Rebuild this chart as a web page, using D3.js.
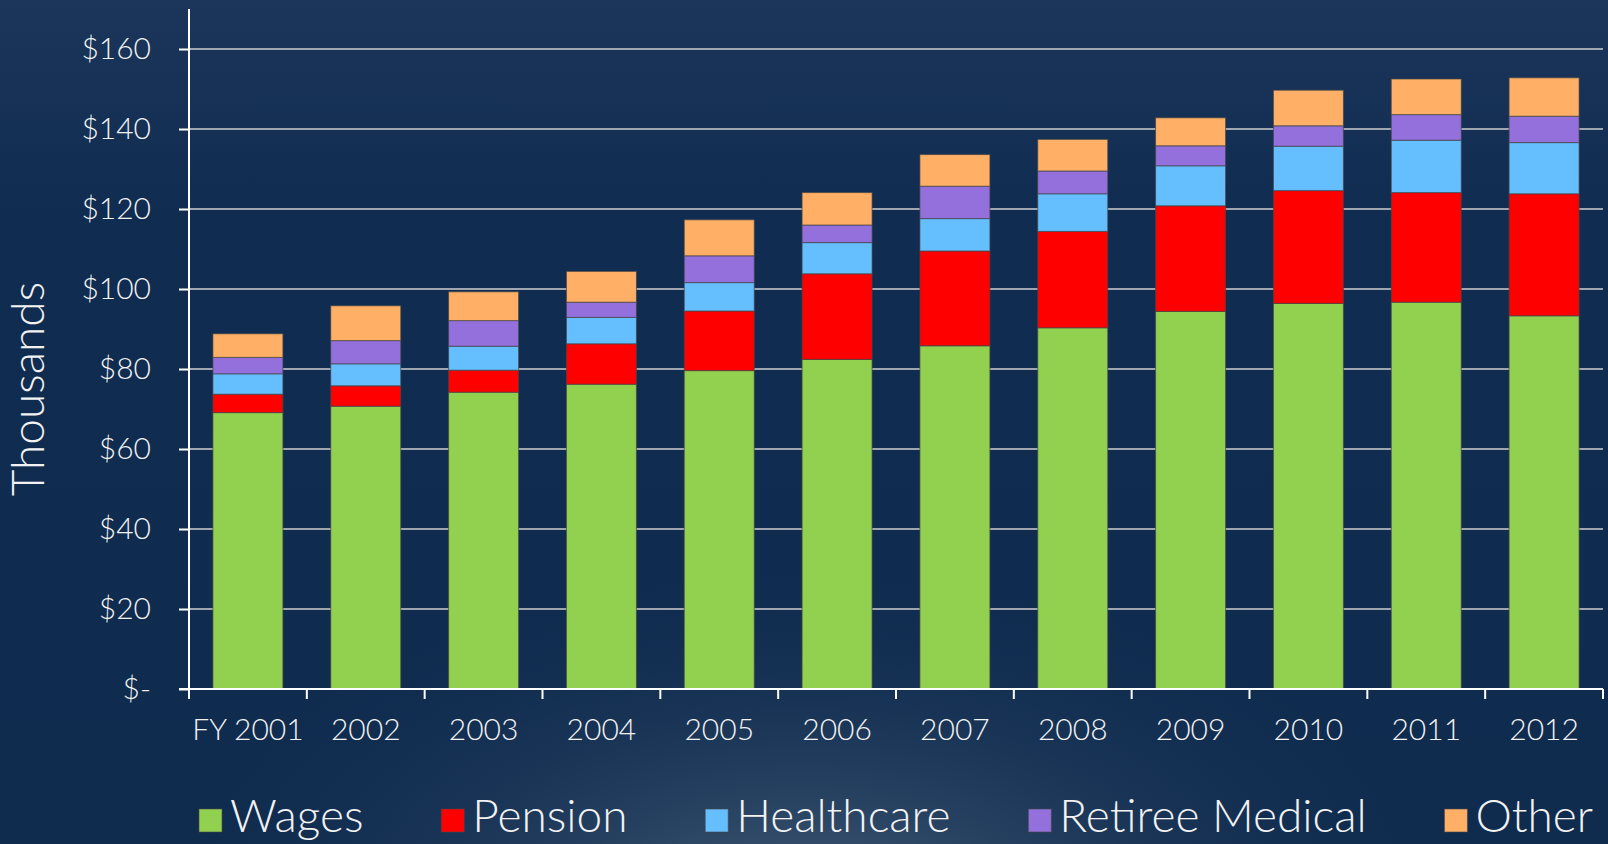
<!DOCTYPE html>
<html>
<head>
<meta charset="utf-8">
<script src="https://cdn.jsdelivr.net/npm/d3@7"></script>
<style>
    body { margin: 0; background: #0f2b4f; }
    svg { display: block; }
    text { font-family: Lato, "Open Sans", sans-serif; fill: #f2f2f2; font-weight: 300; }
</style>
</head>
<body>
<div id="chart_1"></div>
<script>

//Data
var years = ["FY 2001", "2002", "2003", "2004", "2005", "2006", "2007", "2008", "2009", "2010", "2011", "2012"];
var wages      = [69.1, 70.7, 74.2, 76.2, 79.6, 82.4, 85.8, 90.3, 94.4, 96.4, 96.7, 93.3];
var pension    = [4.6, 5.1, 5.5, 10.1, 14.9, 21.4, 23.7, 24.1, 26.4, 28.2, 27.4, 30.5];
var healthcare = [5.1, 5.5, 6.0, 6.6, 7.1, 7.8, 8.1, 9.4, 10.0, 11.1, 13.1, 12.8];
var retiree    = [4.1, 5.8, 6.4, 3.8, 6.7, 4.4, 8.1, 5.7, 5.0, 5.1, 6.4, 6.6];
var other      = [5.9, 8.7, 7.2, 7.7, 9.0, 8.1, 7.9, 7.9, 7.0, 8.9, 8.9, 9.6];
var seriesNames = ["Wages", "Pension", "Healthcare", "Retiree Medical", "Other"];
var yTicks = [0, 20, 40, 60, 80, 100, 120, 140, 160];

var makeChart1 = function() {

    //Width and Height
    var w = 1608;
    var h = 844;
    var margin = {top: 9, right: 5, bottom: 155, left: 189};

    //Colors
    var colors = ["#92d050", "#ff0000", "#65bfff", "#9370dc", "#ffb066"];

    //Build table for the stack
    var seriesValues = [wages, pension, healthcare, retiree, other];
    var table = years.map(function(year, i) {
        var row = {year: year};
        seriesNames.forEach(function(name, k) { row[name] = seriesValues[k][i]; });
        return row;
    });
    var stacked = d3.stack().keys(seriesNames)(table);

    //Create scale functions
    var x = d3.scaleBand()
                .domain(years)
                .range([margin.left, w - margin.right])
                .paddingInner(0.406)
                .paddingOuter(0.203);

    var y = d3.scaleLinear()
                .domain([0, 170])
                .range([h - margin.bottom, margin.top]);

    //Create chart
    var chart = d3.select("#chart_1")
                    .append("svg")
                    .attr("width", w)
                    .attr("height", h);

    //Background
    var defs = chart.append("defs");
    var lin = defs.append("linearGradient")
                    .attr("id", "bgLin")
                    .attr("x1", 0).attr("y1", 0).attr("x2", 0).attr("y2", 1);
    lin.append("stop").attr("offset", "0").attr("stop-color", "#1b365a");
    lin.append("stop").attr("offset", "0.25").attr("stop-color", "#102c50");
    lin.append("stop").attr("offset", "1").attr("stop-color", "#0f2b4e");

    var glow = defs.append("radialGradient")
                    .attr("id", "bgGlow")
                    .attr("cx", 0.5).attr("cy", 1.08).attr("r", 0.42);
    glow.append("stop").attr("offset", "0").attr("stop-color", "#4a627c").attr("stop-opacity", 0.9);
    glow.append("stop").attr("offset", "1").attr("stop-color", "#0f2b4e").attr("stop-opacity", 0);

    chart.append("rect")
        .attr("width", w).attr("height", h)
        .attr("fill", "url(#bgLin)");
    chart.append("rect")
        .attr("width", w).attr("height", h)
        .attr("fill", "url(#bgGlow)");

    //Add gridlines
    chart.append("g")
        .selectAll("line")
        .data(yTicks.filter(function(d) { return d > 0; }))
        .join("line")
        .attr("x1", margin.left)
        .attr("x2", w - margin.right)
        .attr("y1", function(d) { return y(d); })
        .attr("y2", function(d) { return y(d); })
        .attr("stroke", "#cfcfcf")
        .attr("stroke-width", 1.6);

    //Add bars
    chart.append("g")
        .selectAll("g")
        .data(stacked)
        .join("g")
        .attr("fill", function(d, i) { return colors[i]; })
        .selectAll("rect")
        .data(function(d) { return d; })
        .join("rect")
        .attr("x", function(d) { return x(d.data.year); })
        .attr("y", function(d) { return y(d[1]); })
        .attr("width", x.bandwidth())
        .attr("height", function(d) { return y(d[0]) - y(d[1]); })
        .attr("stroke", "rgba(70,70,70,0.7)")
        .attr("stroke-width", 1);

    //Create axes
    var yAxis = d3.axisLeft(y)
                    .tickValues(yTicks)
                    .tickSize(10)
                    .tickPadding(28)
                    .tickFormat(function(d) { return d === 0 ? "$-" : "$" + d; });

    var xAxis = d3.axisBottom(x)
                    .tickSize(0)
                    .tickPadding(30);

    var gy = chart.append("g")
        .attr("transform", "translate(" + margin.left + ",0)")
        .call(yAxis);
    gy.select(".domain").remove();
    gy.selectAll("line").attr("stroke", "#ffffff").attr("stroke-width", 2);
    gy.selectAll("text")
        .attr("font-size", 30)
        .attr("fill", "#f2f2f2")
        .style("font-family", "Lato, sans-serif");

    var gx = chart.append("g")
        .attr("transform", "translate(0," + y(0) + ")")
        .call(xAxis);
    gx.select(".domain").remove();
    gx.selectAll("text")
        .attr("font-size", 30)
        .attr("fill", "#f2f2f2")
        .style("font-family", "Lato, sans-serif");

    //Category boundary ticks
    var bounds = d3.range(years.length + 1).map(function(i) { return margin.left + i * x.step(); });
    chart.append("g")
        .selectAll("line")
        .data(bounds)
        .join("line")
        .attr("x1", function(d) { return d; })
        .attr("x2", function(d) { return d; })
        .attr("y1", y(0))
        .attr("y2", y(0) + 10)
        .attr("stroke", "#ffffff")
        .attr("stroke-width", 2);

    //Axis lines
    chart.append("line")
        .attr("x1", margin.left).attr("x2", margin.left)
        .attr("y1", y(170)).attr("y2", y(0) + 10)
        .attr("stroke", "#ffffff").attr("stroke-width", 2);
    chart.append("line")
        .attr("x1", margin.left - 10).attr("x2", w - margin.right)
        .attr("y1", y(0)).attr("y2", y(0))
        .attr("stroke", "#ffffff").attr("stroke-width", 2);

    //Y axis title
    chart.append("text")
        .attr("transform", "translate(44," + 389 + ") rotate(-90)")
        .attr("text-anchor", "middle")
        .attr("font-size", 46)
        .text("Thousands");

    //Legend
    var legend = chart.append("g");
    var items = legend.selectAll("g")
        .data(seriesNames)
        .join("g");
    items.append("rect")
        .attr("width", 23)
        .attr("height", 23)
        .attr("y", -23)
        .attr("fill", function(d, i) { return colors[i]; })
        .attr("stroke", "rgba(70,70,70,0.6)");
    items.append("text")
        .attr("x", 31)
        .attr("font-size", 46)
        .text(function(d) { return d; });

    var widths = [];
    items.each(function() { widths.push(this.getBBox().width); });
    var legendLeft = 199, legendRight = 1593;
    var gap = (legendRight - legendLeft - d3.sum(widths)) / (widths.length - 1);
    var pos = legendLeft;
    items.attr("transform", function(d, i) {
        var t = "translate(" + pos + ",832)";
        pos += widths[i] + gap;
        return t;
    });
}

makeChart1();

</script>
</body>
</html>
